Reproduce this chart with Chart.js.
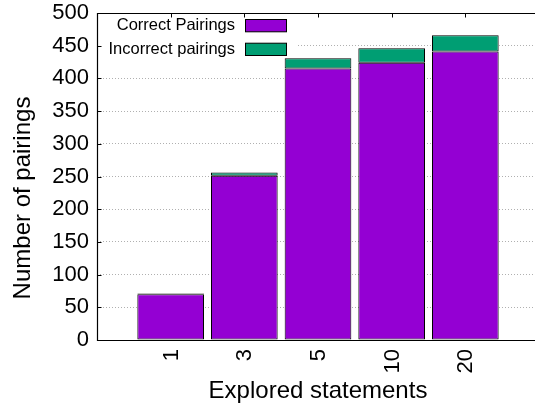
<!DOCTYPE html>
<html>
<head>
<meta charset="utf-8">
<script src="https://cdn.jsdelivr.net/npm/chart.js@4.4.0/dist/chart.umd.min.js"></script>
<style>
  html, body { margin: 0; padding: 0; background: #fff; overflow: hidden; }
  #wrap { width: 540px; height: 406px; position: relative; }
</style>
</head>
<body>
<div id="wrap"><canvas id="c" width="540" height="406"></canvas></div>
<script>
// ---- data ----
const categories = ['1', '3', '5', '10', '20'];
const correctPairings = [70, 251, 415, 424, 441];
const incorrectPairings = [1, 5, 16, 22, 25];
const yTickValues = [0, 50, 100, 150, 200, 250, 300, 350, 400, 450, 500];
const seriesLabels = ['Correct Pairings', 'Incorrect pairings'];
const xTitle = 'Explored statements';
const yTitle = 'Number of pairings';

const PURPLE = '#9400D3';
const GREEN = '#009E73';
const FONT = "'Liberation Sans', Arial, Helvetica, sans-serif";

const toPoints = arr => arr.map((v, i) => ({ x: i, y: v }));

const framePlugin = {
  id: 'frame',
  beforeDatasetsDraw(chart) {
    const { ctx, chartArea: a } = chart;
    ctx.save();
    ctx.fillStyle = '#fff';
    ctx.fillRect(a.left + 1, a.top + 1, 198, 47);
    ctx.font = '16.5px ' + FONT;
    ctx.textAlign = 'right';
    ctx.textBaseline = 'middle';
    const rows = [a.top + 12.5, a.top + 36.2];
    chart.data.datasets.forEach((ds, i) => {
      ctx.fillStyle = '#000';
      ctx.fillText(ds.label, 235, rows[i]);
      ctx.fillStyle = ds.backgroundColor;
      ctx.fillRect(245.5, rows[i] - 6, 41, 12.3);
      ctx.strokeStyle = '#000';
      ctx.lineWidth = 1;
      ctx.strokeRect(245.5, rows[i] - 6, 41, 12.3);
    });
    ctx.restore();
  },
  afterDraw(chart) {
    const { ctx, chartArea: a, scales } = chart;
    ctx.save();
    ctx.strokeStyle = '#000';
    ctx.lineWidth = 1.2;
    const L = Math.round(a.left) + 0.5, T = Math.round(a.top) + 0.5, B = Math.round(a.bottom) + 0.5;
    ctx.beginPath();
    ctx.moveTo(a.right + 5, T); ctx.lineTo(L, T); ctx.lineTo(L, B); ctx.lineTo(a.right + 5, B);
    ctx.stroke();
    ctx.lineWidth = 1;
    ctx.beginPath();
    yTickValues.forEach(v => {
      const y = Math.round(scales.y.getPixelForValue(v)) + 0.5;
      ctx.moveTo(L, y); ctx.lineTo(L + 4, y);
    });
    categories.forEach((c, i) => {
      const x = Math.round(scales.x.getPixelForValue(i)) + 0.5;
      ctx.moveTo(x, T); ctx.lineTo(x, T + 4);
    });
    ctx.stroke();
    ctx.fillStyle = '#000';
    ctx.font = '22px ' + FONT;
    categories.forEach((c, i) => {
      const x = scales.x.getPixelForValue(i);
      ctx.save();
      ctx.translate(x + 1, a.bottom + 9);
      ctx.rotate(-Math.PI / 2);
      ctx.textAlign = 'right';
      ctx.textBaseline = 'middle';
      ctx.fillText(c, 0, 0);
      ctx.restore();
    });
    ctx.font = '24px ' + FONT;
    ctx.textAlign = 'center';
    ctx.textBaseline = 'alphabetic';
    ctx.fillText(xTitle, (a.left + a.right) / 2, 397.5);
    ctx.translate(23, 198);
    ctx.rotate(-Math.PI / 2);
    ctx.textBaseline = 'middle';
    ctx.fillText(yTitle, 0, 0);
    ctx.restore();
  }
};

new Chart(document.getElementById('c'), {
  type: 'bar',
  data: {
    datasets: [
      { label: seriesLabels[0], data: toPoints(correctPairings), backgroundColor: PURPLE,
        borderColor: '#000', borderWidth: 1, borderSkipped: false,
        barPercentage: 0.905, categoryPercentage: 1 },
      { label: seriesLabels[1], data: toPoints(incorrectPairings), backgroundColor: GREEN,
        borderColor: '#000', borderWidth: 1, borderSkipped: false,
        barPercentage: 0.905, categoryPercentage: 1 }
    ]
  },
  options: {
    responsive: false,
    animation: false,
    devicePixelRatio: 1,
    layout: { padding: { top: 13, right: 1, left: 0, bottom: 0 } },
    plugins: { legend: { display: false }, tooltip: { enabled: false } },
    scales: {
      x: {
        type: 'linear', stacked: true, min: -1, max: 5, offset: false,
        afterFit(s) { s.height = 66; s.paddingLeft = 0; s.paddingRight = 0; },
        afterBuildTicks(s) { s.ticks = categories.map((c, i) => ({ value: i })); },
        ticks: { display: false },
        grid: { display: false, drawTicks: false },
        border: { display: false }
      },
      y: {
        stacked: true, min: 0, max: 500,
        afterFit(s) { s.width = 97; s.paddingTop = 0; s.paddingBottom = 0; },
        afterBuildTicks(s) { s.ticks = yTickValues.map(v => ({ value: v })); },
        ticks: { padding: 8, color: '#000', font: { family: FONT, size: 22 } },
        grid: {
          drawTicks: false, tickLength: 0, lineWidth: 1,
          color: ctx => (ctx.tick && (ctx.tick.value === 0 || ctx.tick.value === 500)) ? 'rgba(0,0,0,0)' : '#b0b0b0'
        },
        border: { display: false, dash: [1, 2] }
      }
    }
  },
  plugins: [framePlugin]
});
</script>
</body>
</html>
